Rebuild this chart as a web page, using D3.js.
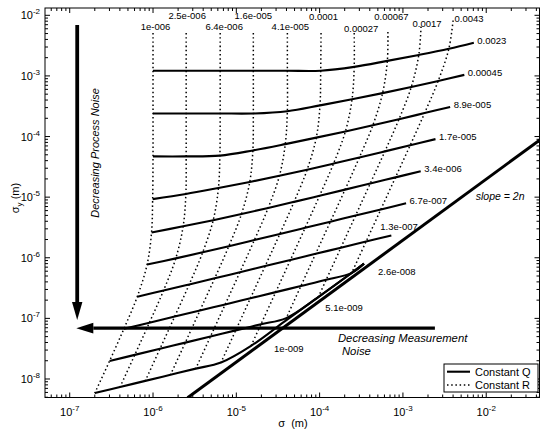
<!DOCTYPE html>
<html>
<head>
<meta charset="utf-8">
<script src="https://cdn.jsdelivr.net/npm/d3@7"></script>
<style>
  body { margin: 0; background: #fff; }
  svg { display: block; font-family: 'Liberation Sans', Arial, Helvetica, sans-serif; }
</style>
</head>
<body>
<div id="chart"></div>
<script>
// Constant Q curves (solid) and constant R lines (dotted), as labelled.
const qLabels = ['0.0023', '0.00045', '8.9e-005', '1.7e-005', '3.4e-006',
                 '6.7e-007', '1.3e-007', '2.6e-008', '5.1e-009', '1e-009']
const rLabels = ['1e-006', '2.5e-006', '6.4e-006', '1.6e-005', '4.1e-005',
                 '0.0001', '0.00027', '0.00067', '0.0017', '0.0043']

// Grid: row i (0 = unlabelled top row, 1..10 = Q curves),
// column j (0..9 = R lines, 10 = last point of each Q curve).
const sigma = [
  [1.0e-6, 2.5e-6, 6.4e-6, 1.6e-5, 4.1e-5, 1.04e-4, 2.6e-4, 6.6e-4, 1.65e-3, 4.0e-3, 9.5e-3],
  [1.0e-6, 2.5e-6, 6.4e-6, 1.6e-5, 4.1e-5, 1.03e-4, 2.6e-4, 6.5e-4, 1.55e-3, 3.56e-3, 7.1e-3],
  [1.0e-6, 2.5e-6, 6.4e-6, 1.6e-5, 4.1e-5, 1.01e-4, 2.45e-4, 5.7e-4, 1.26e-3, 2.65e-3, 5.46e-3],
  [1.0e-6, 2.5e-6, 6.35e-6, 1.58e-5, 3.87e-5, 9.12e-5, 2.04e-4, 4.35e-4, 8.97e-4, 1.82e-3, 3.69e-3],
  [9.9e-7, 2.48e-6, 6.1e-6, 1.45e-5, 3.29e-5, 7.08e-5, 1.47e-4, 3.0e-4, 6.07e-4, 1.223e-3, 2.46e-3],
  [9.6e-7, 2.3e-6, 5.28e-6, 1.153e-5, 2.41e-5, 4.93e-5, 9.99e-5, 2.02e-4, 4.05e-4, 8.14e-4, 1.635e-3],
  [8.49e-7, 1.875e-6, 3.95e-6, 8.13e-6, 1.648e-5, 3.33e-5, 6.7e-5, 1.346e-4, 2.7e-4, 5.43e-4, 1.091e-3],
  [6.47e-7, 1.337e-6, 2.72e-6, 5.5e-6, 1.104e-5, 2.22e-5, 4.46e-5, 8.95e-5, 1.8e-4, 3.61e-4, 7.26e-4],
  [4.47e-7, 9.04e-7, 1.82e-6, 3.66e-6, 7.35e-6, 1.477e-5, 2.97e-5, 5.96e-5, 1.198e-4, 2.43e-4, 3.41e-4],
  [3.01e-7, 6.04e-7, 1.213e-6, 2.44e-6, 4.9e-6, 9.83e-6, 1.976e-5, 3.97e-5, 9.64e-5, 2.43e-4, 3.41e-4],
  [2.0e-7, 4.02e-7, 8.07e-7, 1.622e-6, 3.26e-6, 6.55e-6, 1.503e-5, 3.81e-5, 9.64e-5, 2.43e-4, 3.41e-4]
]
const sigmaY = [
  [5.1e-3, 5.1e-3, 5.1e-3, 5.1e-3, 5.1e-3, 5.1e-3, 5.1e-3, 5.3e-3, 6.5e-3, 8.2e-3, 1.04e-2],
  [1.22e-3, 1.22e-3, 1.22e-3, 1.22e-3, 1.22e-3, 1.22e-3, 1.41e-3, 1.77e-3, 2.22e-3, 2.81e-3, 3.54e-3],
  [2.4e-4, 2.4e-4, 2.4e-4, 2.4e-4, 2.62e-4, 3.27e-4, 4.12e-4, 5.2e-4, 6.56e-4, 8.26e-4, 1.04e-3],
  [4.7e-5, 4.7e-5, 4.85e-5, 5.9e-5, 7.5e-5, 9.6e-5, 1.215e-4, 1.53e-4, 1.93e-4, 2.44e-4, 3.07e-4],
  [9.27e-6, 1.127e-5, 1.416e-5, 1.78e-5, 2.25e-5, 2.84e-5, 3.58e-5, 4.52e-5, 5.69e-5, 7.19e-5, 9.07e-5],
  [2.62e-6, 3.3e-6, 4.17e-6, 5.26e-6, 6.63e-6, 8.36e-6, 1.055e-5, 1.331e-5, 1.68e-5, 2.12e-5, 2.675e-5],
  [7.74e-7, 9.77e-7, 1.23e-6, 1.552e-6, 1.96e-6, 2.47e-6, 3.12e-6, 3.94e-6, 4.97e-6, 6.27e-6, 7.91e-6],
  [2.28e-7, 2.88e-7, 3.63e-7, 4.58e-7, 5.78e-7, 7.29e-7, 9.2e-7, 1.161e-6, 1.466e-6, 1.85e-6, 2.33e-6],
  [6.73e-8, 8.48e-8, 1.07e-7, 1.35e-7, 1.7e-7, 2.15e-7, 2.71e-7, 3.42e-7, 4.32e-7, 5.64e-7, 8.0e-7],
  [1.983e-8, 2.5e-8, 3.16e-8, 3.98e-8, 5.03e-8, 6.34e-8, 8.0e-8, 1.01e-7, 2.25e-7, 5.64e-7, 8.0e-7],
  [5.85e-9, 7.38e-9, 9.31e-9, 1.175e-8, 1.483e-8, 1.87e-8, 3.52e-8, 8.95e-8, 2.25e-7, 5.64e-7, 8.0e-7]
]

// slope = 2n line.
const slopeSigma = [2.6e-6, 5e-2]
const slopeSigmaY = [4.9e-9, 1.0e-4]

// Arrows (tail, tip).
const processArrowSigma = [1.23e-7, 1.23e-7]
const processArrowSigmaY = [6.9e-3, 9.4e-8]
const measureArrowSigma = [2.42e-3, 1.2e-7]
const measureArrowSigmaY = [6.9e-8, 6.9e-8]

const xTickExp = [-7, -6, -5, -4, -3, -2]
const yTickExp = [-8, -7, -6, -5, -4, -3, -2]

// Frame.
const W = 549, H = 429
const pL = 45, pR = 539.5, pT = 8, pB = 397.5

const x = d3.scaleLog().domain([5.05e-8, 4.36e-2]).range([pL, pR])
const y = d3.scaleLog().domain([4.95e-9, 1.32e-2]).range([pB, pT])

const svg = d3.select('#chart').append('svg')
  .attr('width', W)
  .attr('height', H)

svg.append('defs').append('clipPath')
    .attr('id', 'plotClip')
  .append('rect')
    .attr('x', pL).attr('y', pT)
    .attr('width', pR - pL).attr('height', pB - pT)

// Ticks, inside on all four sides.
function logTicks(domain) {
  const major = [], minor = []
  for (let e = -10; e <= 0; e++) {
    for (let m = 1; m < 10; m++) {
      const v = m * Math.pow(10, e)
      if (v >= domain[0] && v <= domain[1]) (m === 1 ? major : minor).push(v)
    }
  }
  return { major, minor }
}

const ticks = svg.append('g').attr('stroke', '#000').attr('stroke-width', 1)
const xt = logTicks(x.domain())
const yt = logTicks(y.domain())
xt.major.forEach(v => {
  ticks.append('line').attr('x1', x(v)).attr('x2', x(v)).attr('y1', pB).attr('y2', pB - 5)
  ticks.append('line').attr('x1', x(v)).attr('x2', x(v)).attr('y1', pT).attr('y2', pT + 5)
})
xt.minor.forEach(v => {
  ticks.append('line').attr('x1', x(v)).attr('x2', x(v)).attr('y1', pB).attr('y2', pB - 3)
  ticks.append('line').attr('x1', x(v)).attr('x2', x(v)).attr('y1', pT).attr('y2', pT + 3)
})
yt.major.forEach(v => {
  ticks.append('line').attr('x1', pL).attr('x2', pL + 5).attr('y1', y(v)).attr('y2', y(v))
  ticks.append('line').attr('x1', pR).attr('x2', pR - 5).attr('y1', y(v)).attr('y2', y(v))
})
yt.minor.forEach(v => {
  ticks.append('line').attr('x1', pL).attr('x2', pL + 3).attr('y1', y(v)).attr('y2', y(v))
  ticks.append('line').attr('x1', pR).attr('x2', pR - 3).attr('y1', y(v)).attr('y2', y(v))
})

// Tick labels.
xTickExp.forEach(e => {
  const t = svg.append('text')
    .attr('x', x(Math.pow(10, e))).attr('y', pB + 18)
    .attr('text-anchor', 'middle').attr('font-size', 11)
  t.append('tspan').text('10')
  t.append('tspan').attr('dy', -5).attr('font-size', 8).text(e)
})
yTickExp.forEach(e => {
  const t = svg.append('text')
    .attr('x', pL - 5).attr('y', y(Math.pow(10, e)) + 4)
    .attr('text-anchor', 'end').attr('font-size', 11)
  t.append('tspan').text('10')
  t.append('tspan').attr('dy', -5).attr('font-size', 8).text(e)
})

// Axis titles.
svg.append('text')
  .attr('x', 293).attr('y', 427)
  .attr('text-anchor', 'middle').attr('font-size', 11)
  .attr('xml:space', 'preserve')
  .text('\u03c3  (m)')
const yTitle = svg.append('text')
  .attr('transform', 'translate(19,198) rotate(-90)')
  .attr('text-anchor', 'middle').attr('font-size', 11)
yTitle.append('tspan').text('\u03c3')
yTitle.append('tspan').attr('dy', 3).attr('font-size', 8).text('y')
yTitle.append('tspan').attr('dy', -3).text(' (m)')

// Plot contents.
const plot = svg.append('g').attr('clip-path', 'url(#plotClip)')

const line = d3.line()
  .x(d => x(d[0]))
  .y(d => y(d[1]))
  .curve(d3.curveCatmullRom.alpha(0.5))

// Constant R (dotted).
for (let j = 0; j < rLabels.length; j++) {
  const pts = []
  for (let i = 0; i < sigma.length; i++) {
    const p = [sigma[i][j], sigmaY[i][j]]
    const last = pts[pts.length - 1]
    if (!last || last[0] !== p[0] || last[1] !== p[1]) pts.push(p)
  }
  plot.append('path')
    .attr('d', line(pts))
    .attr('fill', 'none')
    .attr('stroke', '#000')
    .attr('stroke-width', 1.5)
    .attr('stroke-dasharray', '1.5 2.7')
}

// Constant Q (solid).
for (let i = 1; i < sigma.length; i++) {
  const pts = sigma[i].map((s, j) => [s, sigmaY[i][j]])
  plot.append('path')
    .attr('d', line(pts))
    .attr('fill', 'none')
    .attr('stroke', '#000')
    .attr('stroke-width', 2.1)
}

// Slope line.
plot.append('line')
  .attr('x1', x(slopeSigma[0])).attr('y1', y(slopeSigmaY[0]))
  .attr('x2', x(slopeSigma[1])).attr('y2', y(slopeSigmaY[1]))
  .attr('stroke', '#000')
  .attr('stroke-width', 3)

// Arrows.
function arrow(xs, ys, width, headLen, headHalf) {
  const x0 = x(xs[0]), y0 = y(ys[0]), x1 = x(xs[1]), y1 = y(ys[1])
  const a = Math.atan2(y1 - y0, x1 - x0)
  const bx = x1 - headLen * Math.cos(a), by = y1 - headLen * Math.sin(a)
  plot.append('line')
    .attr('x1', x0).attr('y1', y0).attr('x2', bx).attr('y2', by)
    .attr('stroke', '#000').attr('stroke-width', width)
  const nx = -Math.sin(a) * headHalf, ny = Math.cos(a) * headHalf
  plot.append('path')
    .attr('d', 'M' + x1 + ',' + y1 + 'L' + (bx + nx) + ',' + (by + ny) + 'L' + (bx - nx) + ',' + (by - ny) + 'Z')
    .attr('fill', '#000')
}
arrow(processArrowSigma, processArrowSigmaY, 3.8, 18, 5.2)
arrow(measureArrowSigma, measureArrowSigmaY, 3.4, 17, 5.3)

// Q labels at the end of each curve.
const qAnchor = [10, 10, 10, 10, 10, 10, 10, 10, 8, 6]
const qOffset = [[3.5, 1], [3.5, 1], [3.5, 1], [3.5, 1], [3.5, 1], [3.5, 1],
                 [-11, -5], [14, 11.5], [7, 14], [23, 6.5]]
qLabels.forEach((t, k) => {
  const i = k + 1, j = qAnchor[k]
  svg.append('text')
    .attr('x', x(sigma[i][j]) + qOffset[k][0])
    .attr('y', y(sigmaY[i][j]) + qOffset[k][1])
    .attr('font-size', 9.5)
    .text(t)
})

// R labels at the top of each dotted line.
const rOffset = [[2.5, -2.7], [1, -13.7], [4, -2.7], [0, -13.7], [3, -2.7],
                 [2.5, -12.7], [7, -0.7], [3.5, -11.9], [6, 0.7], [16, 1.8]]
rLabels.forEach((t, j) => {
  svg.append('text')
    .attr('x', x(sigma[0][j]) + rOffset[j][0])
    .attr('y', y(sigmaY[0][j]) + rOffset[j][1])
    .attr('text-anchor', 'middle')
    .attr('font-size', 9.5)
    .text(t)
})

// Annotations.
svg.append('text')
  .attr('transform', 'translate(' + (x(processArrowSigma[0]) + 22) + ',153) rotate(-90)')
  .attr('text-anchor', 'middle')
  .attr('font-size', 11)
  .attr('font-style', 'italic')
  .text('Decreasing Process Noise')

const mx = x(1.66e-4), my = y(measureArrowSigmaY[0])
svg.append('text')
  .attr('x', mx).attr('y', my + 14)
  .attr('font-size', 11.3).attr('font-style', 'italic')
  .text('Decreasing Measurement')
svg.append('text')
  .attr('x', mx + 4).attr('y', my + 26.5)
  .attr('font-size', 11.3).attr('font-style', 'italic')
  .text('Noise')

svg.append('text')
  .attr('x', x(1.47e-2)).attr('y', y(1.05e-5) + 4)
  .attr('text-anchor', 'middle')
  .attr('font-size', 10.5).attr('font-style', 'italic')
  .text('slope = 2n')

// Legend.
const lg = svg.append('g').attr('transform', 'translate(' + (pR - 95.5) + ',' + (pB - 33.5) + ')')
lg.append('rect')
  .attr('width', 94).attr('height', 28)
  .attr('fill', '#fff').attr('stroke', '#000').attr('stroke-width', 1)
lg.append('line').attr('x1', 3).attr('x2', 26).attr('y1', 7.7).attr('y2', 7.7)
  .attr('stroke', '#000').attr('stroke-width', 2.1)
lg.append('line').attr('x1', 3).attr('x2', 26).attr('y1', 21).attr('y2', 21)
  .attr('stroke', '#000').attr('stroke-width', 1.5).attr('stroke-dasharray', '1.5 2.7')
lg.append('text').attr('x', 31).attr('y', 11.7).attr('font-size', 11).text('Constant Q')
lg.append('text').attr('x', 31).attr('y', 25).attr('font-size', 11).text('Constant R')

// Box.
svg.append('rect')
  .attr('x', pL).attr('y', pT)
  .attr('width', pR - pL).attr('height', pB - pT)
  .attr('fill', 'none').attr('stroke', '#000').attr('stroke-width', 1)
</script>
</body>
</html>
